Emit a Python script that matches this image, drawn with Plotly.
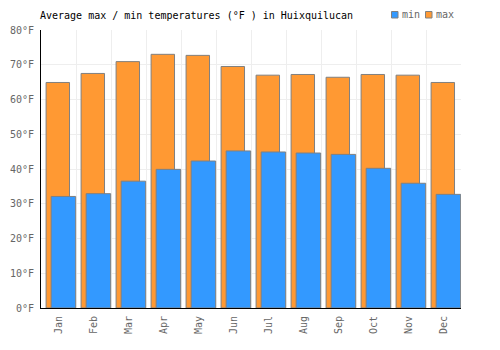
import plotly.graph_objects as go

months = ["Jan", "Feb", "Mar", "Apr", "May", "Jun", "Jul", "Aug", "Sep", "Oct", "Nov", "Dec"]
max_temps = [64.9, 67.5, 70.9, 73.0, 72.7, 69.5, 67.0, 67.2, 66.4, 67.2, 67.0, 64.9]
min_temps = [32.1, 32.9, 36.5, 39.9, 42.3, 45.2, 44.9, 44.6, 44.2, 40.2, 35.9, 32.7]
y_ticks = [0, 10, 20, 30, 40, 50, 60, 70, 80]
y_tick_labels = [f"{v}°F" for v in y_ticks]

MIN_COLOR = "#3399ff"
MAX_COLOR = "#ff9933"
pos = list(range(len(months)))
font = "DejaVu Sans Mono"

fig = go.Figure()
fig.add_trace(go.Bar(
    x=pos, y=max_temps, name="max",
    marker=dict(color=MAX_COLOR, line=dict(color="#808080", width=1)),
    width=0.67, offset=-0.355,
))
fig.add_trace(go.Bar(
    x=pos, y=min_temps, name="min",
    marker=dict(color=MIN_COLOR, line=dict(color="#808080", width=1)),
    width=0.70, offset=-0.21,
))

# manual legend (pixel positions converted to paper coords)
L, T, PW, PH = 41, 30, 420, 278
def px(x):
    return (x - L) / PW
def py(y):
    return (T + PH - y) / PH

shapes = []
annotations = []
for name, color, sx in [("min", MIN_COLOR, 391.5), ("max", MAX_COLOR, 425.5)]:
    shapes.append(dict(type="rect", xref="paper", yref="paper",
                       x0=px(sx), x1=px(sx + 6.5), y0=py(18), y1=py(11.5),
                       fillcolor=color, line=dict(color="#808080", width=1)))
    annotations.append(dict(text=name, xref="paper", yref="paper",
                            x=px(sx + 8.5), y=py(15), xanchor="left", yanchor="middle",
                            showarrow=False,
                            font=dict(family=font, size=10, color="#666666")))

fig.update_layout(
    width=500, height=350,
    margin=dict(l=L, r=500 - L - PW, t=T, b=350 - T - PH, autoexpand=False),
    paper_bgcolor="white", plot_bgcolor="white",
    barmode="overlay",
    font=dict(family=font, size=10, color="#666666"),
    title=dict(text="Average max / min temperatures (°F ) in Huixquilucan",
               x=40/500, xanchor="left", y=1-15/350, yanchor="middle",
               font=dict(family=font, size=10, color="#000000")),
    showlegend=False,
    shapes=shapes,
    annotations=annotations,
    xaxis=dict(range=[-0.5, 11.5], tickvals=pos, ticktext=months, tickangle=-90,
               showgrid=False, showline=True, linecolor="#000000", linewidth=1,
               ticks="", zeroline=False, fixedrange=True, ticklabelstandoff=3,
               minor=dict(tickvals=[i - 0.5 for i in range(13)], showgrid=True,
                          gridcolor="#eeeeee", gridwidth=1, ticks="")),
    yaxis=dict(range=[0, 80], tickvals=y_ticks, ticktext=y_tick_labels,
               showgrid=True, gridcolor="#eeeeee", gridwidth=1,
               showline=True, linecolor="#000000", linewidth=1, ticklabelstandoff=4,
               zeroline=False, ticks="", fixedrange=True),
)

fig.write_html("out.html")
